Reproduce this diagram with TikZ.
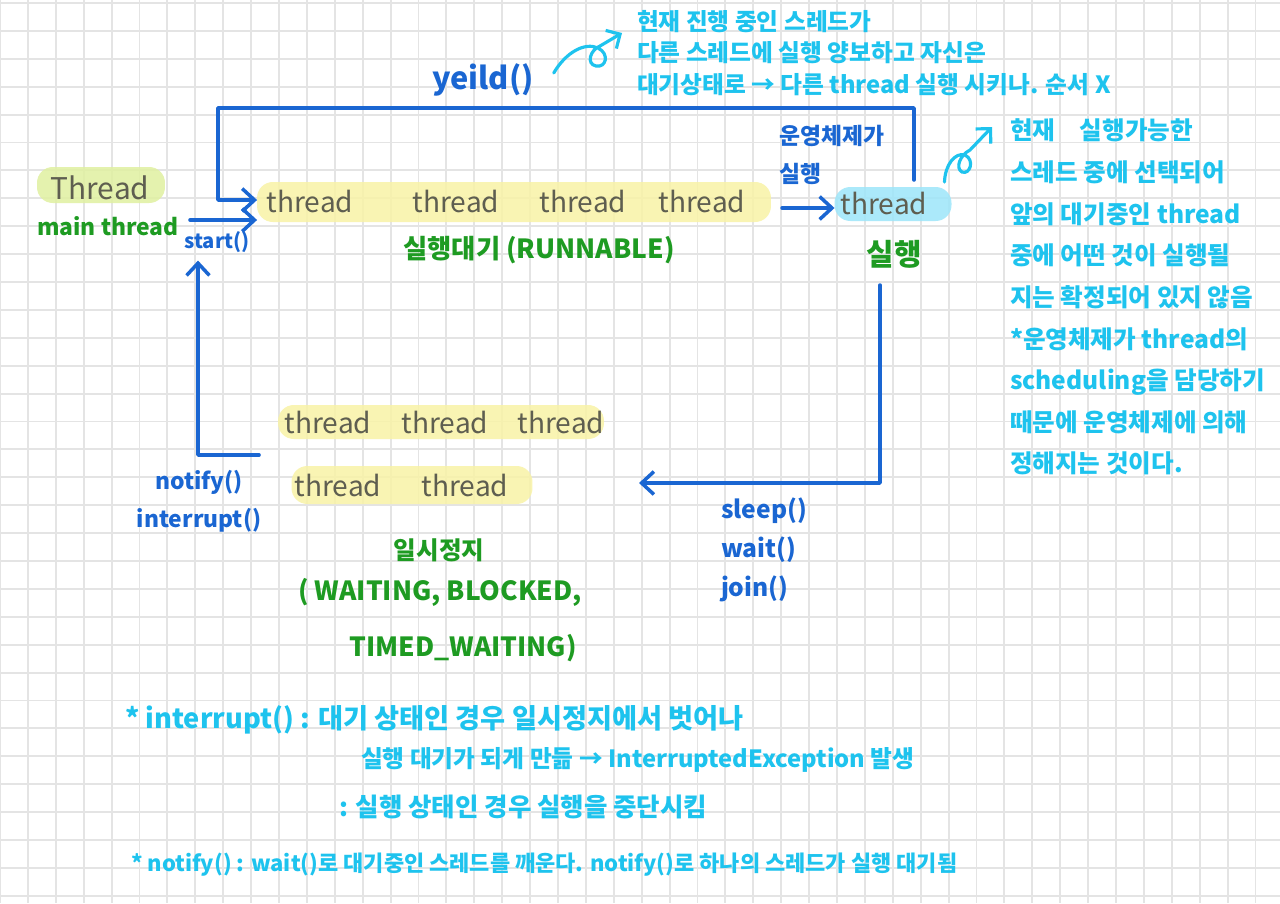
\documentclass[tikz,border=0pt]{standalone}
\usepackage{fontspec}
\setmainfont{Noto Sans CJK KR}
\usetikzlibrary{arrows.meta}
\definecolor{nbBlue}{HTML}{1A66D2}
\definecolor{nbCyan}{HTML}{1EC3EE}
\definecolor{nbGreen}{HTML}{1E9B22}
\definecolor{nbInk}{HTML}{5E5E50}
\definecolor{nbYellow}{HTML}{F8F3A6}
\definecolor{nbLime}{HTML}{E0F0A0}
\definecolor{nbSky}{HTML}{9DE6FA}
\definecolor{nbGrid}{HTML}{E4E4E4}

\begin{document}
\begin{tikzpicture}[x=0.02cm, y=-0.02cm,
  every node/.style={inner sep=0pt, outer sep=0pt},
  gridline/.style={draw=nbGrid, line width=1.1pt},
  blob/.style={rectangle, rounded corners=9pt, fill=nbYellow, fill opacity=0.85},
  word/.style={text=nbInk, font=\fontsize{16}{18}\selectfont},
  state/.style={text=nbGreen, font=\fontsize{15}{22}\selectfont\bfseries},
  call/.style={text=nbBlue, font=\fontsize{13}{22}\selectfont\bfseries},
  note/.style={text=nbCyan, font=\fontsize{13.5}{18}\selectfont\bfseries},
  flow/.style={draw=nbBlue, line width=2pt, line cap=round, line join=round,
               -{Straight Barb[length=7pt, width=13pt]}},
  curl/.style={draw=nbCyan, line width=1.8pt, line cap=round,
               -{Straight Barb[length=6pt, width=12pt]}}
]
  % paper
  \fill[white] (0,0) rectangle (1280,903);
  \useasboundingbox (0,0) rectangle (1280,903);
  \foreach \gx in {0,...,45} \draw[gridline] (\gx*27.9,0) -- (\gx*27.9,903);
  \foreach \gy in {0,...,32} \draw[gridline] (0,3+\gy*27.9) -- (1280,3+\gy*27.9);

  % new thread
  \node[blob, fill=nbLime, minimum width=2.56cm, minimum height=0.72cm] (newbox) at (101,185) {};
  \node[word, font=\fontsize{17}{20}\selectfont] (newthr) at (100,188) {Thread};
  \node[state, font=\fontsize{13}{16}\selectfont\bfseries] (mainthr) at (108,226) {main thread};
  \node[call, font=\fontsize{11.5}{14}\selectfont\bfseries] (startlbl) at (217,242) {start()};

  % runnable queue
  \node[blob, minimum width=10.28cm, minimum height=0.8cm] (runq) at (514,202) {};
  \node[word] (r1) at (310,201) {thread};
  \node[word] (r2) at (456,201) {thread};
  \node[word] (r3) at (583,201) {thread};
  \node[word] (r4) at (702,201) {thread};
  \node[state] (runlbl) at (539,250) {실행대기 (RUNNABLE)};

  % running
  \node[blob, fill=nbSky, minimum width=2.34cm, minimum height=0.68cm] (runbox) at (893,204) {};
  \node[word] (cur) at (884,203) {thread};
  \node[state, font=\fontsize{17}{20}\selectfont\bfseries] (runninglbl) at (894,254) {실행};
  \node[call, align=left, anchor=north west] (osnote) at (779,125) {운영체제가\\실행};

  % waiting
  \node[blob, minimum width=6.52cm, minimum height=0.68cm] (waitA) at (441,422) {};
  \node[blob, minimum width=4.82cm, minimum height=0.76cm] (waitB) at (412,485) {};
  \node[word] (w1) at (328,422) {thread};
  \node[word] (w2) at (445,422) {thread};
  \node[word] (w3) at (561,422) {thread};
  \node[word] (w4) at (338,485) {thread};
  \node[word] (w5) at (465,485) {thread};
  \node[state, font=\fontsize{14}{16}\selectfont\bfseries] (pauselbl) at (439,550) {일시정지};
  \node[state] (pausekinds) at (440,592) {( WAITING, BLOCKED,};
  \node[state] (pausetimed) at (463,648) {TIMED\_WAITING)};

  % method calls
  \node[call, font=\fontsize{17.5}{20}\selectfont\bfseries] (yieldlbl) at (483,80) {yeild()};
  \node[call, font=\fontsize{14}{22}\selectfont\bfseries, align=left, anchor=north west] (waitcalls) at (721,498) {sleep()\\wait()\\join()};
  \node[call, align=center, anchor=north] (wakecalls) at (199,470) {notify()\\interrupt()};

  % notes
  \node[note, align=left, anchor=north west] (yieldnote) at (637,10)
    {현재 진행 중인 스레드가\\다른 스레드에 실행 양보하고 자신은\\대기상태로 → 다른 thread 실행 시키나. 순서 X};
  \node[note, font=\fontsize{14}{23.7}\selectfont\bfseries, align=left, anchor=north west] (schednote) at (1010,119)
    {현재\quad 실행가능한\\스레드 중에 선택되어\\앞의 대기중인 thread\\중에 어떤 것이 실행될\\지는 확정되어 있지 않음\\*운영체제가 thread의\\scheduling을 담당하기\\때문에 운영체제에 의해\\정해지는 것이다.};
  \node[note, font=\fontsize{15.5}{18}\selectfont\bfseries, anchor=west] (intr1) at (125,720) {* interrupt() : 대기 상태인 경우 일시정지에서 벗어나};
  \node[note, anchor=west] (intr2) at (361,760) {실행 대기가 되게 만듦 → InterruptedException 발생};
  \node[note, font=\fontsize{14.5}{18}\selectfont\bfseries, anchor=west] (intr3) at (339,807) {: 실행 상태인 경우 실행을 중단시킴};
  \node[note, font=\fontsize{12.5}{15}\selectfont\bfseries, anchor=west] (notifynote) at (131,865) {* notify() : wait()로 대기중인 스레드를 깨운다. notify()로 하나의 스레드가 실행 대기됨};

  % connectors
  \coordinate (spawn) at (190,220);
  \coordinate (yieldbar) at (218,108);
  \coordinate (pick) at (782,208);
  \coordinate (sleepin) at (639,483);
  \draw[flow] (spawn) -- (spawn -| runq.west);
  \draw[flow] ([xshift=0.42cm,yshift=0.14cm]runbox.north) |- (yieldbar) |- ([yshift=0.04cm]runq.west);
  \draw[flow] (pick) -- (pick -| runbox.west);
  \draw[flow] ([xshift=-0.28cm,yshift=-0.34cm]runninglbl.south) |- (sleepin);
  \draw[flow] ([xshift=-0.38cm,yshift=-0.32cm]waitA.south west) -| ([xshift=-0.38cm,yshift=-0.16cm]startlbl.south);

  % curly pointers to the notes
  \draw[curl] ([xshift=0.4cm,yshift=0.14cm]yieldlbl.east) .. controls (566,52) and (585,42) .. (598,48)
    .. controls (610,54) and (606,68) .. (596,66) .. controls (586,64) and (590,50) .. (600,46) -- (622,33);
  \draw[curl] ([xshift=-0.14cm,yshift=0.1cm]runbox.north east) .. controls (945,165) and (955,152) .. (965,155)
    .. controls (975,160) and (970,175) .. (962,172) .. controls (955,168) and (960,155) .. (970,150) -- (992,127);
\end{tikzpicture}
\end{document}
